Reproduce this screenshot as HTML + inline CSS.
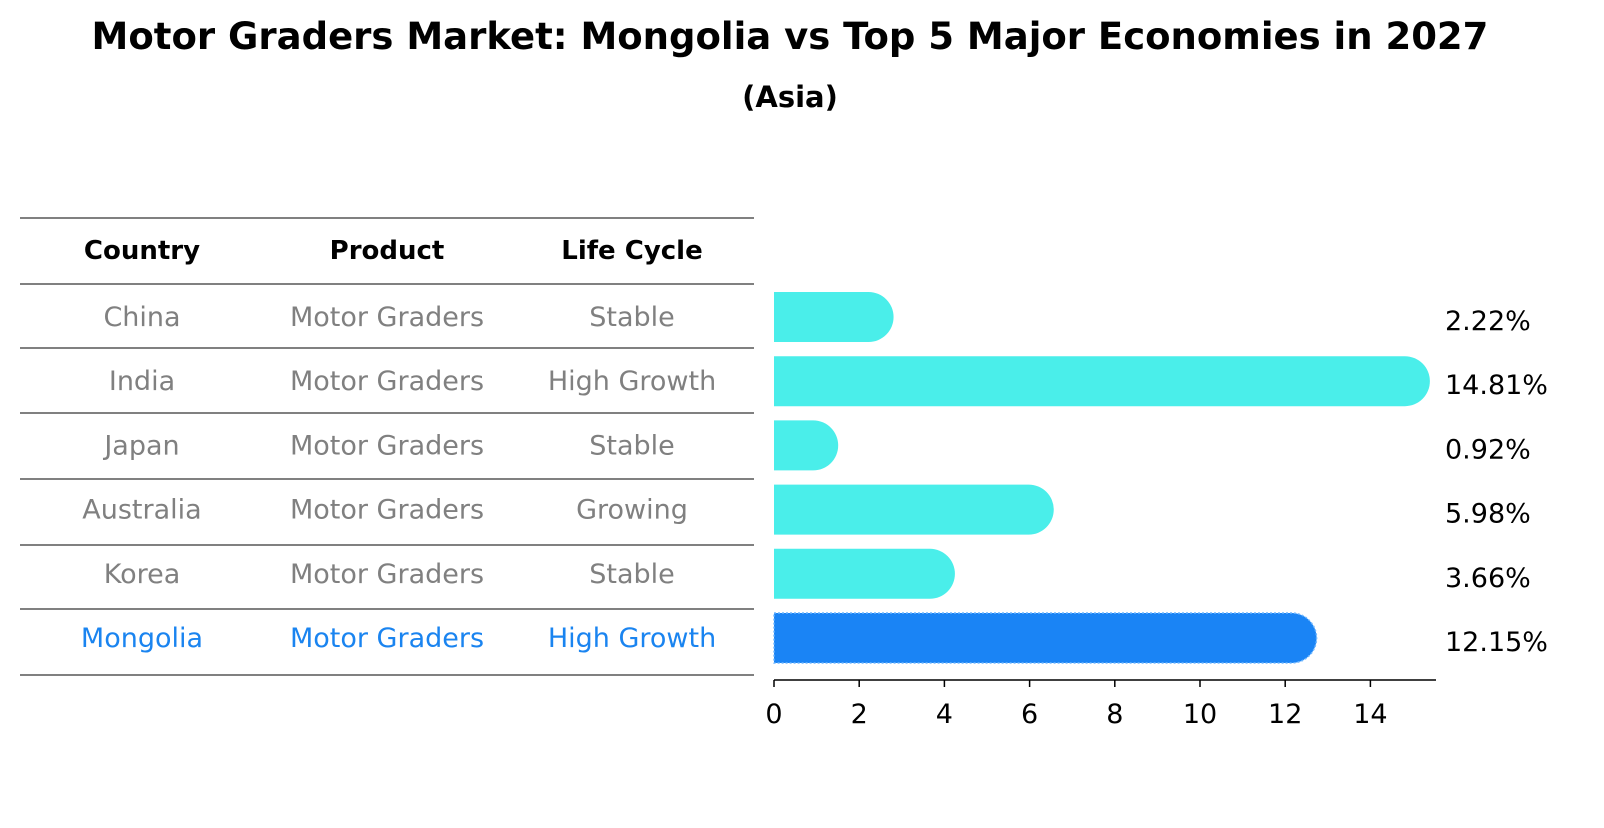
<!DOCTYPE html>
<html><head><meta charset="utf-8"><style>
body{margin:0;background:#fff;font-family:"Liberation Sans","DejaVu Sans",sans-serif;}
</style></head><body>
<svg id="chart" width="1604" height="823" xmlns="http://www.w3.org/2000/svg" font-family="DejaVu Sans, Liberation Sans, sans-serif">
<text x="790" y="49" text-anchor="middle" font-size="37" font-weight="bold">Motor Graders Market: Mongolia vs Top 5 Major Economies in 2027</text>
<text x="790" y="107" text-anchor="middle" font-size="29" font-weight="bold">(Asia)</text>
<g id="table"></g>
<g id="bars"></g>
</svg>
<script>
const countries=["China","India","Japan","Australia","Korea","Mongolia"];
const products=["Motor Graders","Motor Graders","Motor Graders","Motor Graders","Motor Graders","Motor Graders"];
const lifecycle=["Stable","High Growth","Stable","Growing","Stable","High Growth"];
const values=[2.22,14.81,0.92,5.98,3.66,12.15];
const ticks=[0,2,4,6,8,10,12,14];
const NS="http://www.w3.org/2000/svg";
function mk(t,a,p,txt){const e=document.createElementNS(NS,t);for(const k in a)e.setAttribute(k,a[k]);if(txt!=null)e.textContent=txt;p.appendChild(e);return e;}
const tbl=document.getElementById('table'),bars=document.getElementById('bars');
const x0=774,ppu=42.6;
const xs=v=>x0+v*ppu;
const rowY=i=>317+i*64.2;
const lines=[218,284,348,413,479,545,609,675];
lines.forEach(y=>{const l=mk('line',{x1:20,x2:754,y1:y,y2:y,stroke:'#000','stroke-width':1},tbl);

});
const cx=[142,387,632];
["Country","Product","Life Cycle"].forEach((h,j)=>{const t=mk('text',{x:cx[j],y:259,'text-anchor':'middle','font-size':26,'font-weight':'bold'},tbl,h);

});
countries.forEach((c,i)=>{const col=i===countries.length-1?'#1a84f0':'#808080';
[c,products[i],lifecycle[i]].forEach((s,j)=>{const t=mk('text',{x:cx[j],y:rowY(i)+9,'text-anchor':'middle','font-size':27,fill:col},tbl,s);

});
const hl=i===countries.length-1;
const y=rowY(i)-25,h=50,r=25,xe=xs(values[i]);
const p=mk('path',{d:`M${x0},${y} H${xe} A${r},${r} 0 0 1 ${xe},${y+h} H${x0} Z`,fill:hl?'#1a84f5':'#4aeeea',stroke:hl?'#6fb7ff':'none','stroke-dasharray':'2,2','stroke-width':1.5},bars);


const lt=mk('text',{x:1445,y:rowY(i)+13,'font-size':27},bars,values[i].toFixed(2)+'%');

});
const ax=mk('line',{x1:x0,x2:1436,y1:680,y2:680,stroke:'#000','stroke-width':1.5},bars);


ticks.forEach(t=>{const tk=mk('line',{x1:xs(t),x2:xs(t),y1:680,y2:687,stroke:'#000','stroke-width':1.5},bars);


const tl=mk('text',{x:xs(t),y:723,'text-anchor':'middle','font-size':27},bars,t);

});
</script>
</body></html>
